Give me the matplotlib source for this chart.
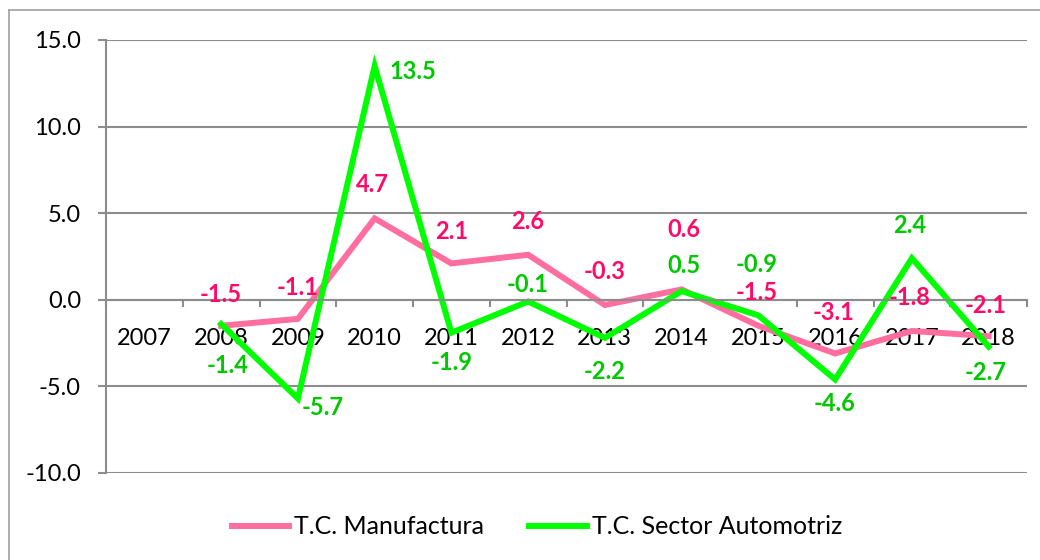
import numpy as np
import matplotlib
matplotlib.use("Agg")
import matplotlib.pyplot as plt
from matplotlib.lines import Line2D
from matplotlib.ticker import FixedLocator, FuncFormatter

plt.rcParams['font.family'] = ['Lato', 'DejaVu Sans']

# Data
years = ["2007", "2008", "2009", "2010", "2011", "2012", "2013", "2014", "2015", "2016", "2017", "2018"]
manufactura = [np.nan, -1.5, -1.1, 4.7, 2.1, 2.6, -0.3, 0.6, -1.5, -3.1, -1.8, -2.1]
automotriz = [np.nan, -1.4, -5.7, 13.5, -1.9, -0.1, -2.2, 0.5, -0.9, -4.6, 2.4, -2.7]

# label offsets in pixels (dx, dy) relative to each point
off_manu = [None, (0, 31), (0, 31), (-2, 34), (0, 32), (0, 33), (0, 33), (2, 60), (-2, 33), (-2, 41), (-2, 33), (-3, 31)]
off_auto = [None, (6, -41), (25, -9), (38, -6), (0, -30), (0, 17), (0, -34), (2, 26), (-2, 51), (-1, -24), (-2, 33), (-3, -26)]

pink_line = "#FF6E9E"
pink_text = "#FF0A68"
green_line = "#00FF00"
green_text = "#00C800"
grid_c = "#8C8C8C"

fig = plt.figure(figsize=(10.4, 5.6), dpi=100)
ax = fig.add_axes([106 / 1040, 1 - 473 / 560, 921 / 1040, 433 / 560])

x = np.arange(len(years))
ax.plot(x, manufactura, color=pink_line, lw=4.3, label="T.C. Manufactura", solid_joinstyle="miter")
ax.plot(x, automotriz, color=green_line, lw=4.3, label="T.C. Sector Automotriz", solid_joinstyle="miter")

for i in range(len(years)):
    if off_manu[i] is not None:
        ax.annotate(f"{manufactura[i]:.1f}", (x[i], manufactura[i]), xytext=off_manu[i],
                    textcoords="offset pixels", ha="center", va="center",
                    color=pink_text, fontsize=17, fontweight="bold")
    if off_auto[i] is not None:
        ax.annotate(f"{automotriz[i]:.1f}", (x[i], automotriz[i]), xytext=off_auto[i],
                    textcoords="offset pixels", ha="center", va="center",
                    color=green_text, fontsize=17, fontweight="bold")

ax.set_xlim(-0.5, len(years) - 0.5)
ax.set_ylim(-10, 15)
ax.set_yticks([-10, -5, 0, 5, 10, 15])
ax.yaxis.set_major_formatter(FuncFormatter(lambda v, p: f"{v:.1f}"))
ax.yaxis.grid(True, color=grid_c, lw=1.5)
ax.set_axisbelow(True)

ax.spines["top"].set_visible(False)
ax.spines["right"].set_visible(False)
ax.spines["bottom"].set_position(("data", 0))
ax.spines["bottom"].set_color(grid_c)
ax.spines["bottom"].set_linewidth(1.5)
ax.spines["left"].set_color(grid_c)
ax.spines["left"].set_linewidth(1.5)

ax.set_xticks(x)
ax.set_xticklabels(years)
ax.xaxis.set_minor_locator(FixedLocator(np.arange(-0.5, len(years), 1.0)))
ax.tick_params(axis="x", which="major", length=0, pad=20, labelsize=17)
ax.tick_params(axis="x", which="minor", length=5, width=1.5, color=grid_c, direction="out")
ax.tick_params(axis="y", length=6, width=1.5, color=grid_c, pad=12, labelsize=17)

fig.legend(loc="center", bbox_to_anchor=(537 / 1040, 1 - 527 / 560), ncol=2, frameon=False,
           fontsize=18, handlelength=2.3, handletextpad=0.2, columnspacing=1.8)

# outer chart border (left and top only visible)
fig.add_artist(Line2D([9 / 1040, 9 / 1040], [0, 1 - 10 / 560], color="#A0A0A0", lw=1.2, transform=fig.transFigure))
fig.add_artist(Line2D([9 / 1040, 1], [1 - 10 / 560, 1 - 10 / 560], color="#A0A0A0", lw=1.2, transform=fig.transFigure))

fig.savefig("out.png", dpi=100)
